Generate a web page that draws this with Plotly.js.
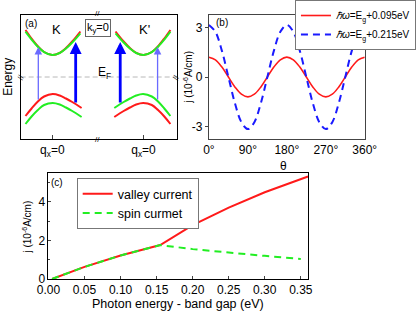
<!DOCTYPE html>
<html><head><meta charset="utf-8">
<script src="https://cdn.plot.ly/plotly-3.0.1.min.js"></script>
<style>html,body{margin:0;padding:0;background:#fff}#plot{width:416px;height:312px}</style>
</head><body><div id="plot"></div>
<script>
// ---------- Panel (a): schematic bands (arbitrary units) ----------
const qTicks = [2.03, 7.86];
const qTickText = ['q<sub>x</sub>=0', 'q<sub>x</sub>=0'];
const condKq = [0.31, 0.7, 1.1, 1.5, 2.03, 2.5, 2.9, 3.3, 3.82];
const condKgreen = [4.53, 3.74, 3.03, 2.49, 2.2, 2.4, 2.85, 3.45, 4.37];
const condKred = [4.7, 3.85, 3.08, 2.5, 2.2, 2.42, 2.9, 3.55, 4.55];
const condKpq = [9.58, 9.19, 8.79, 8.39, 7.86, 7.39, 6.99, 6.59, 6.07];
const valKq = [0.31, 0.7, 1.1, 1.5, 2.05, 2.5, 2.9, 3.3, 3.9];
const valKred = [-3.9, -3.15, -2.45, -1.95, -1.7, -1.85, -2.15, -2.5, -3.1];
const valKgreen = [-4.7, -3.95, -3.3, -2.8, -2.6, -2.75, -3.05, -3.4, -4.0];
const valKpq = [9.58, 9.19, 8.79, 8.39, 7.84, 7.39, 6.99, 6.59, 5.99];
const fermiQ = [0, 10];
const fermiE = [0, 0];
const arrowQ = [1.13, 3.52, 6.37, 8.76];
const arrowFrom = [-2.4, -2.7, -2.7, -2.4];
const arrowTo = [3.0, 3.5, 3.5, 3.0];
const arrowThick = [false, true, true, false];

// ---------- Panel (b): j vs theta ----------
const theta = [0,15,30,45,60,75,90,105,120,135,150,165,180,195,210,225,240,255,270,285,300,315,330,345,360];
const jLow = [1.2,1.04,0.6,0,-0.6,-1.04,-1.2,-1.04,-0.6,0,0.6,1.04,1.2,1.04,0.6,0,-0.6,-1.04,-1.2,-1.04,-0.6,0,0.6,1.04,1.2];
const jHigh = [3.15,2.73,1.58,0,-1.58,-2.73,-3.15,-2.73,-1.58,0,1.58,2.73,3.15,2.73,1.58,0,-1.58,-2.73,-3.15,-2.73,-1.58,0,1.58,2.73,3.15];
const thetaTicks = [0, 90, 180, 270, 360];
const thetaTickText = ['0°', '90°', '180°', '270°', '360°'];
const nameLow = '<i>ℏω</i>=E<sub>g</sub>+0.095eV';
const nameHigh = '<i>ℏω</i>=E<sub>g</sub>+0.215eV';

// ---------- Panel (c): currents vs photon energy ----------
const valleyX = [0.005, 0.05, 0.10, 0.155, 0.20, 0.25, 0.30, 0.36];
const valleyY = [0, 0.63, 1.22, 1.76, 2.8, 3.7, 4.5, 5.32];
const spinX = [0.005, 0.05, 0.10, 0.155, 0.20, 0.25, 0.30, 0.35];
const spinY = [0, 0.63, 1.22, 1.76, 1.55, 1.36, 1.2, 1.04];

const W = 416, H = 312;
const px = (x) => x / W;
const py = (y) => 1 - y / H;
const FONT = 'Liberation Sans, Arial, sans-serif';
const RED = '#ff1a1a', GREEN = '#22ee22';

function band(x, y, color) {
  return {x: x, y: y, xaxis: 'x', yaxis: 'y', mode: 'lines', showlegend: false,
    line: {color: color, width: 2, shape: 'spline', smoothing: 1}, hoverinfo: 'skip'};
}

const traces = [
  {x: fermiQ, y: fermiE, xaxis: 'x', yaxis: 'y', mode: 'lines', showlegend: false,
   line: {color: '#b8b8b8', width: 1, dash: '5px,3px'}},
  band(condKq, condKred, RED),
  band(condKq, condKgreen, GREEN),
  band(condKpq, condKred, RED),
  band(condKpq, condKgreen, GREEN),
  band(valKq, valKred, RED),
  band(valKq, valKgreen, GREEN),
  band(valKpq, valKgreen, RED),
  band(valKpq, valKred, GREEN),
  {x: theta, y: jLow, xaxis: 'x2', yaxis: 'y2', mode: 'lines', name: nameLow, legend: 'legend',
   line: {color: RED, width: 1.6, shape: 'spline'}},
  {x: theta, y: jHigh, xaxis: 'x2', yaxis: 'y2', mode: 'lines', name: nameHigh, legend: 'legend',
   line: {color: '#1a1aff', width: 2, dash: '7px,5px', shape: 'spline'}},
  {x: valleyX, y: valleyY, xaxis: 'x3', yaxis: 'y3', mode: 'lines', name: 'valley current', legend: 'legend2',
   line: {color: RED, width: 2}},
  {x: spinX, y: spinY, xaxis: 'x3', yaxis: 'y3', mode: 'lines', name: 'spin curmet', legend: 'legend2',
   line: {color: GREEN, width: 2, dash: '7px,5px'}}
];

const annotations = [];
// arrows in panel (a)
for (let i = 0; i < arrowQ.length; i++) {
  const thick = arrowThick[i];
  annotations.push({xref: 'x', yref: 'y', axref: 'x', ayref: 'y',
    x: arrowQ[i], y: arrowTo[i], ax: arrowQ[i], ay: arrowFrom[i], text: '',
    showarrow: true, arrowhead: 2, arrowsize: thick ? 0.85 : 1.15,
    arrowwidth: thick ? 2.8 : 1.3, arrowcolor: thick ? '#0000ff' : '#6a6aff'});
}
function txt(x, y, text, size, extra) {
  return Object.assign({xref: 'paper', yref: 'paper', x: px(x), y: py(y), text: text,
    showarrow: false, font: {family: FONT, size: size, color: '#000'},
    xanchor: 'center', yanchor: 'middle'}, extra || {});
}
annotations.push(
  txt(32, 24, '(a)', 10),
  txt(57, 30, 'K', 13),
  txt(147, 30, "K'", 13),
  txt(100, 28, 'k<sub>y</sub>=0', 11, {bordercolor: '#666', borderwidth: 1, bgcolor: '#fff', borderpad: 1}),
  txt(106, 73, 'E<sub>F</sub>', 12),
  txt(8, 77, 'Energy', 12, {textangle: -90}),
  txt(99, 14, '//', 8),
  txt(99, 139, '//', 8),
  txt(21, 77, '//', 8, {textangle: -70}),
  txt(179, 77, '//', 8, {textangle: -70}),
  txt(226, 23, '(b)', 10),
  txt(191, 77, 'j (10<sup>-6</sup>A/cm)', 10, {textangle: -90}),
  txt(288, 166, 'θ', 12),
  txt(58, 182, '(c)', 10),
  txt(27, 227, 'j (10<sup>-6</sup>A/cm)', 10, {textangle: -90}),
  txt(181, 304, 'Photon energy - band gap (eV)', 12.5)
);

const baseAxis = {showgrid: false, zeroline: false, showline: true, linecolor: '#000', linewidth: 1,
  mirror: true, automargin: false, tickfont: {family: FONT, size: 12, color: '#000'}};

const layout = {
  width: W, height: H, margin: {l: 0, r: 0, t: 0, b: 0},
  paper_bgcolor: '#fff', plot_bgcolor: '#fff',
  font: {family: FONT, size: 11, color: '#000'},
  xaxis: Object.assign({}, baseAxis, {domain: [px(21), px(180)], range: [0, 10],
    tickvals: qTicks, ticktext: qTickText, ticks: 'inside', ticklen: 4, anchor: 'y'}),
  yaxis: Object.assign({}, baseAxis, {domain: [py(139), py(15)], range: [-6.2, 6.2],
    showticklabels: false, ticks: '', anchor: 'x'}),
  xaxis2: Object.assign({}, baseAxis, {domain: [px(212.5), px(371)], range: [0, 360],
    tickvals: thetaTicks, ticktext: thetaTickText, ticks: '', anchor: 'y2', linecolor: '#444'}),
  yaxis2: Object.assign({}, baseAxis, {domain: [py(139), py(15)], range: [-3.75, 3.75],
    tickvals: [-3, 0, 3], ticktext: ['-3', '0', '3'], ticks: 'outside', ticklen: 3, tickcolor: '#444',
    anchor: 'x2', linecolor: '#444'}),
  xaxis3: Object.assign({}, baseAxis, {domain: [px(49.3), px(313.3)], range: [0, 0.36],
    tickvals: [0, 0.05, 0.1, 0.15, 0.2, 0.25, 0.3, 0.35], tickformat: '.2f',
    ticks: 'inside', ticklen: 3, anchor: 'y3'}),
  yaxis3: Object.assign({}, baseAxis, {domain: [py(279), py(173)], range: [0, 5.5],
    tickvals: [0, 2, 4], ticks: 'inside', ticklen: 3, anchor: 'x3',
    minor: {tickvals: [1, 3, 5], ticks: 'inside', ticklen: 2}}),
  legend: {x: px(300), y: 1, xanchor: 'left', yanchor: 'top', bgcolor: '#fff',
    bordercolor: '#777', borderwidth: 1, font: {family: FONT, size: 10, color: '#000'},
    tracegroupgap: 0, itemwidth: 30},
  legend2: {x: px(78), y: py(178), xanchor: 'left', yanchor: 'top', bgcolor: '#fff',
    bordercolor: '#777', borderwidth: 1, font: {family: FONT, size: 12.5, color: '#000'},
    tracegroupgap: 0, itemwidth: 30},
  annotations: annotations
};

Plotly.newPlot('plot', traces, layout, {staticPlot: true, displayModeBar: false});
</script></body></html>
